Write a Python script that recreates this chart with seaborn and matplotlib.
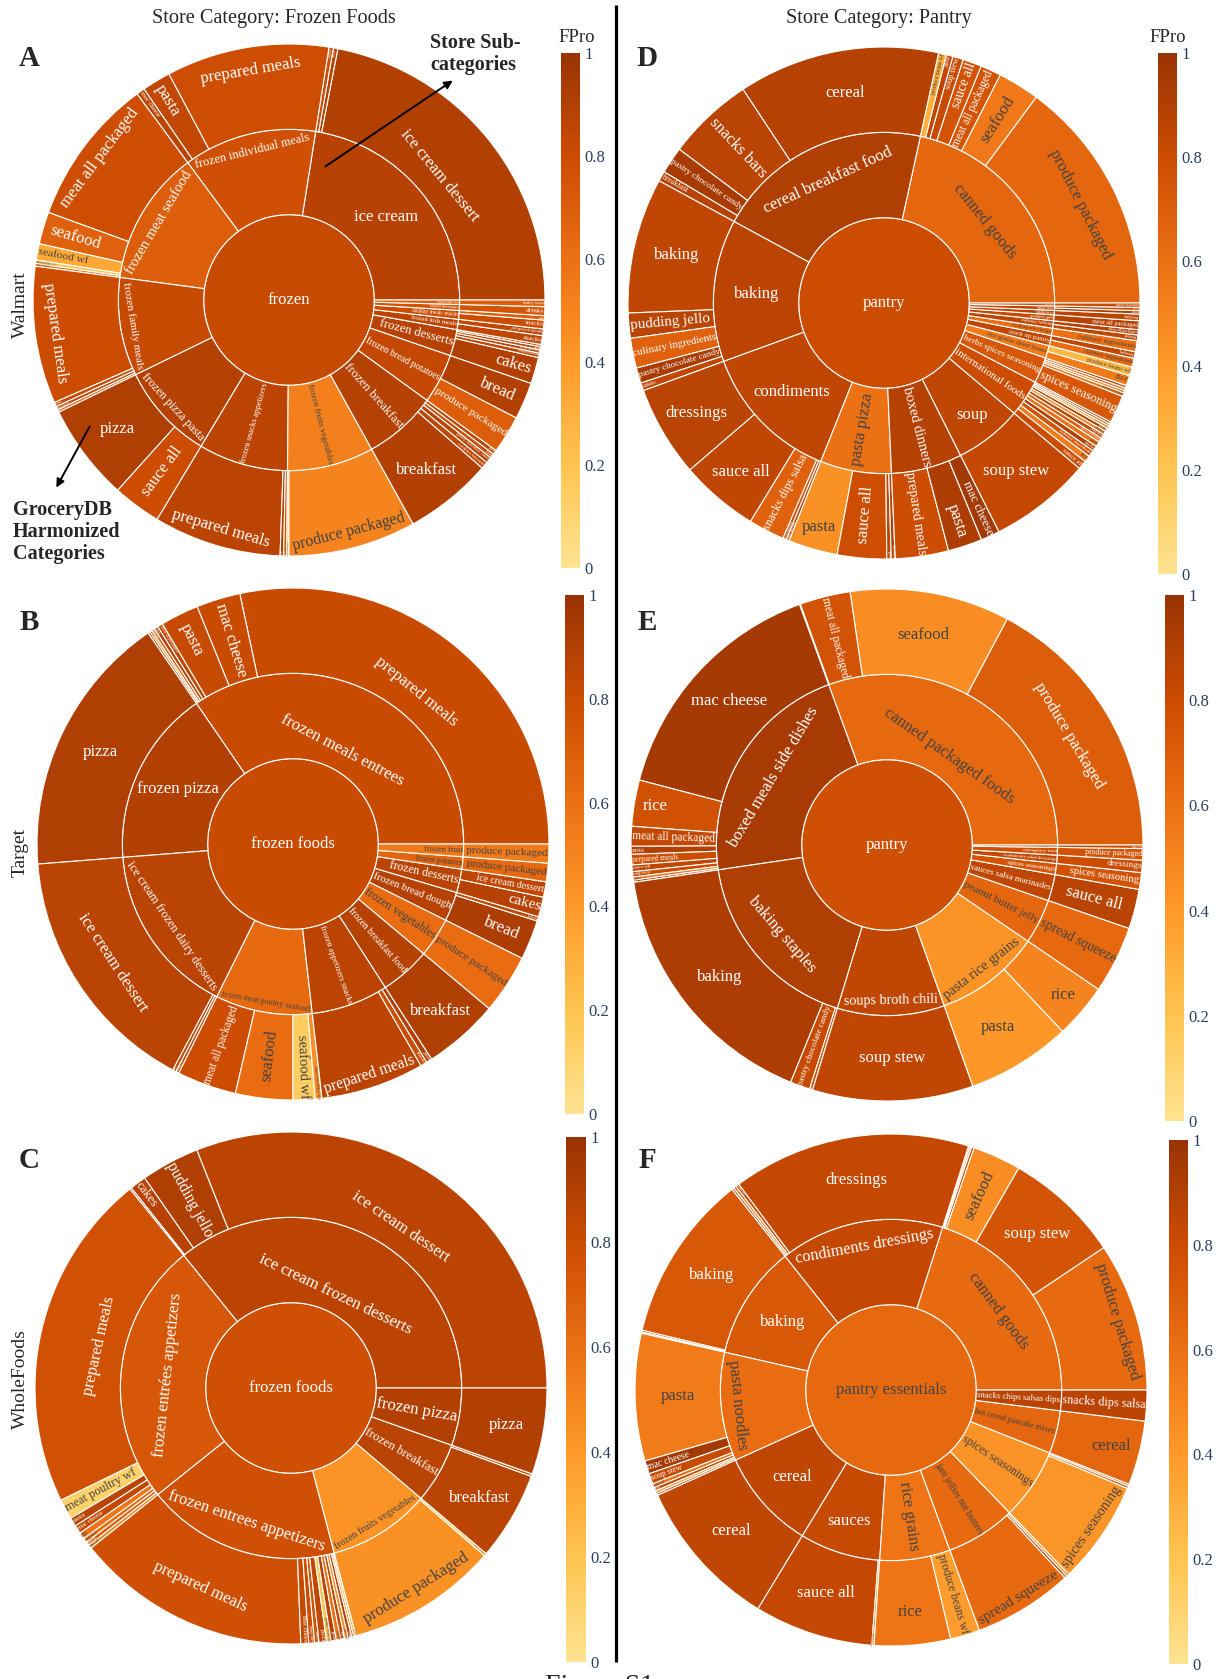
import math
import matplotlib
matplotlib.use("Agg")
import matplotlib.pyplot as plt
import seaborn as sns
import pandas as pd
from matplotlib.font_manager import FontProperties
from matplotlib.colors import Normalize, to_rgb
from matplotlib.cm import ScalarMappable

# ---------------- data: (store subcategory, GroceryDB category, share, FPro) ----------------
walmart_frozen_center = ("frozen", 0.82)
walmart_frozen_sub = {
    "ice cream": 0.88, "frozen individual meals": 0.78, "frozen meat seafood": 0.70,
    "frozen family meals": 0.82, "frozen pizza pasta": 0.89, "frozen snacks appetizers": 0.86,
    "frozen fruits vegetables": 0.52, "frozen breakfast": 0.89, "frozen bread potatoes": 0.83,
    "frozen desserts": 0.88, "frozen kids meals": 0.86, "healthy meals snacks": 0.80,
    "frozen beverages": 0.75, "frozen baby food": 0.70,
}
walmart_frozen = [
    ("ice cream", "ice cream dessert", 79, 0.90), ("ice cream", "cakes", 1.0, 0.88),
    ("ice cream", "snacks", 1.0, 0.80),
    ("frozen individual meals", "prepared meals", 37, 0.79), ("frozen individual meals", "pasta", 6.5, 0.84),
    ("frozen individual meals", "mac cheese", 1.9, 0.86),
    ("frozen meat seafood", "meat all packaged", 33.6, 0.79), ("frozen meat seafood", "seafood", 7.3, 0.68),
    ("frozen meat seafood", "seafood wf", 3.7, 0.33), ("frozen meat seafood", "meat poultry wf", 0.8, 0.20),
    ("frozen meat seafood", "produce packaged", 0.6, 0.60),
    ("frozen family meals", "prepared meals", 31.2, 0.80), ("frozen family meals", "pasta", 1.0, 0.80),
    ("frozen family meals", "mac cheese", 0.8, 0.85), ("frozen family meals", "sauce all", 0.6, 0.70),
    ("frozen pizza pasta", "pizza", 22, 0.91), ("frozen pizza pasta", "sauce all", 11, 0.80),
    ("frozen snacks appetizers", "prepared meals", 29, 0.86), ("frozen snacks appetizers", "pizza", 0.8, 0.90),
    ("frozen snacks appetizers", "snacks", 0.7, 0.75),
    ("frozen fruits vegetables", "produce beans wf", 0.5, 0.20),
    ("frozen fruits vegetables", "produce packaged", 29, 0.50),
    ("frozen breakfast", "breakfast", 20, 0.90), ("frozen breakfast", "cookies biscuits", 1.6, 0.85),
    ("frozen breakfast", "pastry chocolate candy", 1.4, 0.88), ("frozen breakfast", "bread", 1.0, 0.80),
    ("frozen breakfast", "cakes", 1.0, 0.85),
    ("frozen bread potatoes", "produce packaged", 8.6, 0.70), ("frozen bread potatoes", "bread", 8.4, 0.90),
    ("frozen desserts", "cakes", 6, 0.90), ("frozen desserts", "cookies biscuits", 1.0, 0.85),
    ("frozen desserts", "ice cream dessert", 0.8, 0.85), ("frozen desserts", "baking", 0.7, 0.88),
    ("frozen desserts", "snacks", 0.5, 0.80),
    ("frozen kids meals", "snacks", 2.0, 0.85), ("frozen kids meals", "prepared meals", 1.5, 0.85),
    ("healthy meals snacks", "snacks", 2.0, 0.80), ("healthy meals snacks", "nut", 1.0, 0.70),
    ("frozen beverages", "drinks", 2.0, 0.75), ("frozen baby food", "baby food", 1.5, 0.70),
]

target_frozen_center = ("frozen foods", 0.81)
target_frozen_sub = {
    "frozen meals entrees": 0.81, "frozen pizza": 0.90, "ice cream frozen dairy desserts": 0.87,
    "frozen meat poultry seafood": 0.63, "frozen appetizers snacks": 0.86, "frozen breakfast food": 0.89,
    "frozen vegetables": 0.62, "frozen bread dough": 0.89, "frozen desserts": 0.87,
    "frozen potatoes": 0.66, "frozen fruit": 0.56,
}
target_frozen = [
    ("frozen meals entrees", "prepared meals", 102, 0.81), ("frozen meals entrees", "mac cheese", 10, 0.81),
    ("frozen meals entrees", "pasta", 8.7, 0.82), ("frozen meals entrees", "meat all packaged", 1.2, 0.85),
    ("frozen meals entrees", "pizza", 0.9, 0.90), ("frozen meals entrees", "sauce all", 0.7, 0.70),
    ("frozen meals entrees", "seafood", 0.5, 0.50), ("frozen meals entrees", "soup stew", 0.5, 0.85),
    ("frozen pizza", "pizza", 60, 0.91),
    ("ice cream frozen dairy desserts", "ice cream dessert", 57.5, 0.87),
    ("ice cream frozen dairy desserts", "cakes", 0.8, 0.85),
    ("ice cream frozen dairy desserts", "pudding jello", 0.7, 0.88),
    ("frozen meat poultry seafood", "meat all packaged", 13.5, 0.80),
    ("frozen meat poultry seafood", "seafood", 13, 0.62),
    ("frozen meat poultry seafood", "seafood wf", 5, 0.15),
    ("frozen meat poultry seafood", "meat poultry wf", 1.5, 0.45),
    ("frozen appetizers snacks", "prepared meals", 23.5, 0.86), ("frozen appetizers snacks", "snacks", 1.5, 0.80),
    ("frozen appetizers snacks", "pizza", 1.3, 0.90),
    ("frozen breakfast food", "breakfast", 17.2, 0.91),
    ("frozen vegetables", "produce packaged", 13.5, 0.62),
    ("frozen bread dough", "bread", 9, 0.92), ("frozen bread dough", "baking", 1.0, 0.85),
    ("frozen desserts", "cakes", 4.5, 0.88), ("frozen desserts", "ice cream dessert", 3.5, 0.85),
    ("frozen potatoes", "produce packaged", 4.2, 0.64),
    ("frozen fruit", "produce packaged", 4.3, 0.55),
]

wholefoods_frozen_center = ("frozen foods", 0.78)
wholefoods_frozen_sub = {
    "ice cream frozen desserts": 0.86, "frozen entrées appetizers": 0.74,
    "frozen entrees appetizers": 0.78, "frozen fruits vegetables": 0.43,
    "frozen breakfast": 0.87, "frozen pizza": 0.90,
}
wholefoods_frozen = [
    ("ice cream frozen desserts", "ice cream dessert", 111.6, 0.86),
    ("ice cream frozen desserts", "pudding jello", 13.3, 0.91),
    ("ice cream frozen desserts", "cakes", 3.7, 0.88), ("ice cream frozen desserts", "snacks", 0.4, 0.80),
    ("frozen entrées appetizers", "prepared meals", 77, 0.77),
    ("frozen entrées appetizers", "meat poultry wf", 4.6, 0.12),
    ("frozen entrées appetizers", "pasta", 2.0, 0.87), ("frozen entrées appetizers", "mac cheese", 1.9, 0.83),
    ("frozen entrées appetizers", "nut", 1.5, 0.58), ("frozen entrées appetizers", "soup stew", 1.0, 0.62),
    ("frozen entrées appetizers", "seafood", 0.9, 0.70), ("frozen entrées appetizers", "sauce all", 0.8, 0.50),
    ("frozen entrees appetizers", "prepared meals", 53.5, 0.78),
    ("frozen entrees appetizers", "mac cheese", 1.8, 0.82), ("frozen entrees appetizers", "soup stew", 1.3, 0.80),
    ("frozen entrees appetizers", "seafood", 1.0, 0.75), ("frozen entrees appetizers", "pizza", 1.7, 0.85),
    ("frozen entrees appetizers", "produce beans wf", 1.0, 0.20), ("frozen entrees appetizers", "pasta", 1.2, 0.88),
    ("frozen entrees appetizers", "snacks", 1.0, 0.60), ("frozen entrees appetizers", "cakes", 0.9, 0.85),
    ("frozen entrees appetizers", "sauce all", 0.8, 0.45), ("frozen entrees appetizers", "bread", 0.8, 0.90),
    ("frozen entrees appetizers", "breakfast", 0.5, 0.50), ("frozen entrees appetizers", "dressings", 0.5, 0.30),
    ("frozen fruits vegetables", "produce packaged", 34.4, 0.44),
    ("frozen fruits vegetables", "produce beans wf", 0.6, 0.20),
    ("frozen breakfast", "breakfast", 20.1, 0.87), ("frozen breakfast", "bread", 0.6, 0.80),
    ("frozen pizza", "pizza", 19.6, 0.90),
]

walmart_pantry_center = ("pantry", 0.80)
walmart_pantry_sub = {
    "canned goods": 0.65, "cereal breakfast food": 0.91, "baking": 0.86, "condiments": 0.85,
    "pasta pizza": 0.60, "boxed dinners": 0.89, "soup": 0.85, "international foods": 0.80,
    "herbs spices seasoning": 0.74, "rice grains dried beans": 0.55, "stock up pantry": 0.85,
    "cooking oils vinegar": 0.62, "holiday baking": 0.85, "gourmet gifts": 0.82,
    "baking mixes": 0.86, "pantry deals": 0.84, "bulk foods": 0.80,
}
walmart_pantry = [
    ("canned goods", "produce packaged", 53.6, 0.65), ("canned goods", "seafood", 9.5, 0.56),
    ("canned goods", "meat all packaged", 4.7, 0.75), ("canned goods", "sauce all", 4.3, 0.76),
    ("canned goods", "soup stew", 2.4, 0.82), ("canned goods", "pasta", 1.5, 0.85),
    ("canned goods", "produce beans wf", 1.8, 0.30),
    ("cereal breakfast food", "cereal", 45.8, 0.89), ("cereal breakfast food", "snacks bars", 19.7, 0.87),
    ("cereal breakfast food", "pastry chocolate candy", 6.1, 0.94),
    ("cereal breakfast food", "breakfast", 2.3, 0.88),
    ("baking", "baking", 30.8, 0.85), ("baking", "pudding jello", 5.7, 0.87),
    ("baking", "culinary ingredients", 6.8, 0.68), ("baking", "pastry chocolate candy", 3.5, 0.93),
    ("baking", "cakes", 1.8, 0.85),
    ("condiments", "dressings", 20.7, 0.87), ("condiments", "sauce all", 17.9, 0.85),
    ("condiments", "snacks dips salsa", 8.2, 0.68), ("condiments", "spices seasoning", 0.8, 0.80),
    ("condiments", "culinary ingredients", 0.7, 0.90),
    ("pasta pizza", "pasta", 11.2, 0.44), ("pasta pizza", "sauce all", 11.2, 0.79),
    ("pasta pizza", "pizza", 1.0, 0.85), ("pasta pizza", "mac cheese", 0.9, 0.90),
    ("boxed dinners", "prepared meals", 12.1, 0.80), ("boxed dinners", "pasta", 7.8, 0.92),
    ("boxed dinners", "mac cheese", 4.3, 0.96),
    ("soup", "soup stew", 23.1, 0.83),
    ("international foods", "sauce all", 2.0, 0.80), ("international foods", "rice", 1.5, 0.55),
    ("international foods", "culinary ingredients", 1.5, 0.75), ("international foods", "snacks", 1.2, 0.90),
    ("international foods", "pasta", 1.2, 0.60), ("international foods", "spices seasoning", 1.0, 0.70),
    ("international foods", "soup stew", 1.0, 0.85), ("international foods", "dressings", 0.8, 0.50),
    ("international foods", "seafood", 0.8, 0.90), ("international foods", "produce packaged", 0.6, 0.30),
    ("international foods", "cereal", 0.5, 0.80), ("international foods", "nut", 0.5, 0.95),
    ("herbs spices seasoning", "spices seasoning", 6.3, 0.74),
    ("herbs spices seasoning", "culinary ingredients", 0.8, 0.60), ("herbs spices seasoning", "nut", 0.6, 0.50),
    ("herbs spices seasoning", "produce packaged", 0.6, 0.70), ("herbs spices seasoning", "dressings", 0.6, 0.90),
    ("rice grains dried beans", "rice", 2.3, 0.55), ("rice grains dried beans", "produce beans wf", 2.0, 0.25),
    ("stock up pantry", "culinary ingredients", 2.0, 0.62), ("stock up pantry", "baking", 1.5, 0.85),
    ("cooking oils vinegar", "culinary ingredients", 2.5, 0.60),
    ("holiday baking", "baking", 1.3, 0.85), ("holiday baking", "meat all packaged", 1.2, 0.88),
    ("gourmet gifts", "meat all packaged", 2.0, 0.88),
    ("baking mixes", "baking", 1.5, 0.86),
    ("pantry deals", "snacks", 0.8, 0.90), ("pantry deals", "cereal", 0.7, 0.85),
    ("bulk foods", "spices seasoning", 1.0, 0.80),
]

target_pantry_center = ("pantry", 0.78)
target_pantry_sub = {
    "canned packaged foods": 0.64, "boxed meals side dishes": 0.94, "baking staples": 0.91,
    "soups broth chili": 0.85, "pasta rice grains": 0.43, "peanut butter jelly": 0.65,
    "sauces salsa marinades": 0.85, "spices seasonings": 0.75, "condiments salad dressings": 0.84,
    "emergency food": 0.78, "sauce mixes": 0.80,
}
target_pantry = [
    ("canned packaged foods", "produce packaged", 62, 0.70), ("canned packaged foods", "seafood", 36.3, 0.46),
    ("canned packaged foods", "meat all packaged", 11.5, 0.76), ("canned packaged foods", "soup stew", 0.2, 0.80),
    ("boxed meals side dishes", "mac cheese", 55.3, 0.95), ("boxed meals side dishes", "rice", 10.5, 0.77),
    ("boxed meals side dishes", "meat all packaged", 4.5, 0.83), ("boxed meals side dishes", "pasta", 1.8, 0.90),
    ("boxed meals side dishes", "prepared meals", 2.4, 0.80), ("boxed meals side dishes", "sauce all", 1.5, 0.85),
    ("boxed meals side dishes", "soup stew", 1.2, 0.80), ("boxed meals side dishes", "seafood", 0.7, 0.60),
    ("boxed meals side dishes", "cereal", 0.5, 0.90),
    ("baking staples", "baking", 59.5, 0.92), ("baking staples", "pastry chocolate candy", 4.5, 0.82),
    ("baking staples", "cakes", 0.7, 0.80),
    ("soups broth chili", "soup stew", 36.5, 0.85),
    ("pasta rice grains", "pasta", 23.7, 0.41), ("pasta rice grains", "rice", 12.4, 0.50),
    ("peanut butter jelly", "spread squeeze", 15.3, 0.64),
    ("sauces salsa marinades", "sauce all", 9, 0.87),
    ("spices seasonings", "spices seasoning", 3.8, 0.76),
    ("condiments salad dressings", "dressings", 2.8, 0.80),
    ("emergency food", "produce packaged", 2.6, 0.76),
    ("sauce mixes", "sauce all", 0.8, 0.80),
]

wholefoods_pantry_center = ("pantry essentials", 0.64)
wholefoods_pantry_sub = {
    "canned goods": 0.63, "condiments dressings": 0.83, "baking": 0.73, "pasta noodles": 0.62,
    "cereal": 0.85, "sauces": 0.82, "rice grains": 0.58, "jam jellies nut butters": 0.63,
    "spices seasonings": 0.43, "hot cereal pancake mixes": 0.65, "snacks chips salsas dips": 0.86,
}
wholefoods_pantry = [
    ("canned goods", "produce packaged", 33.8, 0.63), ("canned goods", "soup stew", 26.3, 0.75),
    ("canned goods", "seafood", 11.0, 0.46), ("canned goods", "meat all packaged", 0.6, 0.85),
    ("canned goods", "produce beans wf", 0.4, 0.30), ("canned goods", "sauce all", 0.3, 0.80),
    ("condiments dressings", "dressings", 54.1, 0.83), ("condiments dressings", "sauce all", 0.8, 0.80),
    ("condiments dressings", "spices seasoning", 0.6, 0.50), ("condiments dressings", "snacks dips salsa", 0.5, 0.90),
    ("baking", "baking", 38.1, 0.73), ("baking", "pastry chocolate candy", 0.4, 0.85), ("baking", "cakes", 0.3, 0.60),
    ("pasta noodles", "pasta", 28.9, 0.55), ("pasta noodles", "mac cheese", 3.0, 0.96),
    ("pasta noodles", "soup stew", 2.4, 0.82), ("pasta noodles", "sauce all", 0.9, 0.60),
    ("pasta noodles", "pizza", 0.8, 0.85), ("pasta noodles", "rice", 0.6, 0.40),
    ("pasta noodles", "prepared meals", 0.5, 0.90),
    ("cereal", "cereal", 34.4, 0.85),
    ("sauces", "sauce all", 27.0, 0.83), ("sauces", "spices seasoning", 0.5, 0.50),
    ("rice grains", "rice", 17.3, 0.58), ("rice grains", "produce beans wf", 6.7, 0.38),
    ("jam jellies nut butters", "spread squeeze", 22.6, 0.63), ("jam jellies nut butters", "snacks", 0.6, 0.92),
    ("jam jellies nut butters", "nut", 0.6, 0.45),
    ("spices seasonings", "spices seasoning", 23.4, 0.42), ("spices seasonings", "culinary ingredients", 0.6, 0.60),
    ("spices seasonings", "herbs", 0.4, 0.85),
    ("hot cereal pancake mixes", "cereal", 14.6, 0.65),
    ("snacks chips salsas dips", "snacks dips salsa", 7, 0.86),
]

# ---------------- style ----------------
sns.set_style("white")
plt.rcParams["font.family"] = ["Liberation Serif", "DejaVu Serif"]
SERIF = "Liberation Serif"

W, H = 1223, 1679
fig = plt.figure(figsize=(W / 100, H / 100), dpi=100)
renderer = fig.canvas.get_renderer()

fpro_cmap = sns.blend_palette(["#fee391", "#fec44f", "#fe9929", "#ec7014", "#cc4c02", "#993404"],
                              as_cmap=True)

R = 256          # outer radius in px
MAX_FS = 12.0    # max label size (pt)
TEXTPAD = 3


def text_color(v):
    r, g, b = [c * 255 for c in to_rgb(fpro_cmap(v))]
    return "#444444" if (r * 299 + g * 587 + b * 114) / 1000 > 128 else "white"


def norm_rot(a):
    return ((a + 90) % 180) - 90


def max_half(a, half, r, ring):
    q = a + 1 / (2 * math.tan(half))
    return r * min(1 / (math.sqrt(q * q + 0.5) + q), ring / (math.sqrt(a * a + ring / 2) + a))


def label_sector(ax, label, r0, r1, t0, t1, value):
    # radii in px, angles in degrees; mimics sunburst 'auto' inside-text orientation
    tw, _, _ = renderer.get_text_width_height_descent(label, FontProperties(family=SERIF, size=MAX_FS),
                                                      ismath=False)
    th = 1.12 * MAX_FS * 100 / 72
    span = t1 - t0
    mid = (t0 + t1) / 2
    full = span >= 359.9
    half = 0.5 * min(math.radians(span), math.pi)
    ring = 1 - r0 / r1
    if full and r0 == 0:
        rins = 1.0
    else:
        rins = max(0.0, min(1 / (1 + 1 / math.sin(half)), ring / 2))
    cands = [(rins * r1 * 2 / math.hypot(tw, th), 1 - rins, 0.0)]
    if cands[0][0] < 1 and not full:
        rr = max(1e-6, r1 - 2 * TEXTPAD)
        a = th / tw
        s = max_half(a, half, rr, ring)
        cands.append((s * 2 / tw, math.cos(s / rr) - a * s / rr, norm_rot(mid - 90)))
        a = tw / th
        s = max_half(a, half, rr, ring)
        cands.append((s * 2 / th, math.cos(s / rr) - a * s / rr, norm_rot(mid)))
    best = cands[0]
    for c in cands[1:]:
        if c[0] > best[0]:
            best = c
    scale, rc, rot = best
    fs = MAX_FS * min(scale, 1.0)
    if fs < 1.2:
        return
    dist = r1 * rc / R
    x, y = dist * math.cos(math.radians(mid)), dist * math.sin(math.radians(mid))
    ax.text(x, y, label, rotation=rot, rotation_mode="anchor", ha="center", va="center",
            fontsize=fs, color=text_color(value), family=SERIF, clip_on=False)


def sunburst(cx_px, cy_px, center, sub_fpro, rows):
    df = pd.DataFrame(rows, columns=["sub", "leaf", "share", "fpro"])
    subs = list(pd.unique(df["sub"]))
    sub_share = df.groupby("sub", sort=False)["share"].sum().reindex(subs)

    ax = fig.add_axes([(cx_px - R) / W, (H - cy_px - R) / H, 2 * R / W, 2 * R / H])
    edge = dict(edgecolor="white", linewidth=0.8)
    ax.pie([1], radius=1 / 3, colors=[fpro_cmap(center[1])], wedgeprops=edge)
    m_wedges, _ = ax.pie(sub_share.values, radius=2 / 3, startangle=0, counterclock=True,
                         colors=[fpro_cmap(sub_fpro[s]) for s in subs],
                         wedgeprops=dict(width=1 / 3, **edge))
    o_wedges, _ = ax.pie(df["share"].values, radius=1.0, startangle=0, counterclock=True,
                         colors=[fpro_cmap(v) for v in df["fpro"]],
                         wedgeprops=dict(width=1 / 3, **edge))
    ax.set_xlim(-1, 1)
    ax.set_ylim(-1, 1)
    ax.set_aspect("equal")
    ax.axis("off")

    label_sector(ax, center[0], 0, R / 3, 0, 360, center[1])
    for wdg, s in zip(m_wedges, subs):
        label_sector(ax, s, R / 3, 2 * R / 3, wdg.theta1, wdg.theta2, sub_fpro[s])
    for wdg, (_, row) in zip(o_wedges, df.iterrows()):
        label_sector(ax, row["leaf"], 2 * R / 3, R, wdg.theta1, wdg.theta2, row["fpro"])
    return ax


def colorbar(x0, y0, x1, y1):
    cax = fig.add_axes([x0 / W, (H - y1) / H, (x1 - x0) / W, (y1 - y0) / H])
    cb = fig.colorbar(ScalarMappable(norm=Normalize(0, 1), cmap=fpro_cmap), cax=cax)
    cb.outline.set_visible(False)
    cb.set_ticks([0, 0.2, 0.4, 0.6, 0.8, 1])
    cb.set_ticklabels(["0", "0.2", "0.4", "0.6", "0.8", "1"])
    cax.tick_params(length=0, pad=3, labelsize=12, labelcolor="#2a3f5f")
    for t in cax.get_yticklabels():
        t.set_family(SERIF)


sunburst(289, 300, walmart_frozen_center, walmart_frozen_sub, walmart_frozen)
sunburst(293, 844, target_frozen_center, target_frozen_sub, target_frozen)
sunburst(291, 1388, wholefoods_frozen_center, wholefoods_frozen_sub, wholefoods_frozen)
sunburst(884, 303, walmart_pantry_center, walmart_pantry_sub, walmart_pantry)
sunburst(887, 845, target_pantry_center, target_pantry_sub, target_pantry)
sunburst(891, 1390, wholefoods_pantry_center, wholefoods_pantry_sub, wholefoods_pantry)

colorbar(561, 53, 580, 568)
colorbar(565, 595, 584, 1114)
colorbar(566, 1137, 586, 1662)
colorbar(1158, 53, 1177, 574)
colorbar(1165, 595, 1184, 1121)
colorbar(1169, 1140, 1188, 1664)

# ---------------- overlay: titles, panel letters, annotations ----------------
ov = fig.add_axes([0, 0, 1, 1], zorder=10)
ov.set_xlim(0, W)
ov.set_ylim(H, 0)
ov.axis("off")

ov.text(274, 18, "Store Category: Frozen Foods", ha="center", va="center", fontsize=14.6, family=SERIF)
ov.text(879, 18, "Store Category: Pantry", ha="center", va="center", fontsize=14.6, family=SERIF)
ov.plot([616, 616], [5, 1662], color="black", lw=2.3, solid_capstyle="butt")

for letter, (lx, ly) in zip("ABCDEF", [(29, 59), (29, 622), (29, 1160), (647, 59), (647, 622), (647, 1161)]):
    ov.text(lx, ly, letter, ha="center", va="center", fontsize=21, fontweight="bold", family=SERIF)

for store, sy in [("Walmart", 305), ("Target", 852), ("WholeFoods", 1379)]:
    ov.text(20, sy, store, ha="center", va="center", rotation=90, fontsize=14, family=SERIF)

ov.text(577, 37, "FPro", ha="center", va="center", fontsize=13.5, family=SERIF)
ov.text(1168, 37, "FPro", ha="center", va="center", fontsize=13.5, family=SERIF)

ov.text(430, 54, "Store Sub-\ncategories", ha="left", va="center", fontsize=14.5, fontweight="bold",
        family=SERIF, linespacing=1.1)
ov.annotate("", xy=(455, 79), xytext=(323, 168),
            arrowprops=dict(arrowstyle="-|>", color="black", lw=1.4, mutation_scale=12))
ov.text(13, 532, "GroceryDB\nHarmonized\nCategories", ha="left", va="center", fontsize=14.5,
        fontweight="bold", family=SERIF, linespacing=1.15)
ov.annotate("", xy=(55, 490), xytext=(91, 424),
            arrowprops=dict(arrowstyle="-|>", color="black", lw=1.4, mutation_scale=12))

ov.text(600, 1674, "Figure S1", ha="center", va="top", fontsize=20, family=SERIF)

fig.savefig("out.png", dpi=100)
